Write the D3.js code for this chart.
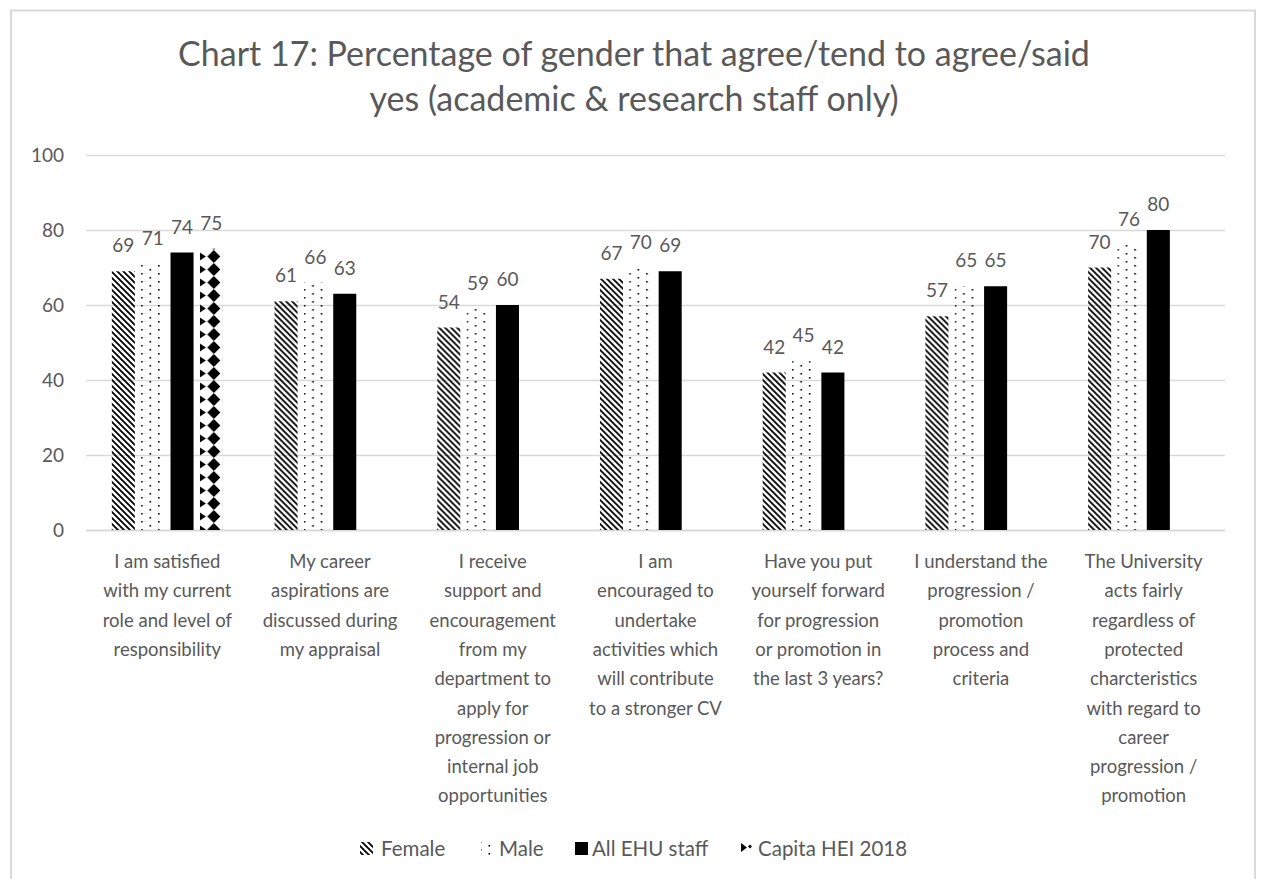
<!DOCTYPE html>
<html>
<head>
<meta charset="utf-8">
<script src="https://cdn.jsdelivr.net/npm/d3@7"></script>
<style>
  html, body { margin: 0; padding: 0; background: #fff; }
  svg { display: block; }
  text { font-family: Lato, "Open Sans", sans-serif; fill: #595959; }
</style>
</head>
<body>
<svg id="chart" width="1262" height="879"></svg>
<script>
// Survey questions (wrapped as shown under the axis)
const categories = [
  ["I am satisfied", "with my current", "role and level of", "responsibility"],
  ["My career", "aspirations are", "discussed during", "my appraisal"],
  ["I receive", "support and", "encouragement", "from my", "department to", "apply for", "progression or", "internal job", "opportunities"],
  ["I am", "encouraged to", "undertake", "activities which", "will contribute", "to a stronger CV"],
  ["Have you put", "yourself forward", "for progression", "or promotion in", "the last 3 years?"],
  ["I understand the", "progression /", "promotion", "process and", "criteria"],
  ["The University", "acts fairly", "regardless of", "protected", "charcteristics", "with regard to", "career", "progression /", "promotion"]
];
const seriesNames = ["Female", "Male", "All EHU staff", "Capita HEI 2018"];
const femaleValues = [69, 61, 54, 67, 42, 57, 70];
const maleValues   = [71, 66, 59, 70, 45, 65, 76];
const allStaffValues = [74, 63, 60, 69, 42, 65, 80];
const capitaValues = [75, null, null, null, null, null, null];
const yTicks = [0, 20, 40, 60, 80, 100];
const titleLines = ["Chart 17: Percentage of gender that agree/tend to agree/said", "yes (academic & research staff only)"];

const seriesValues = [femaleValues, maleValues, allStaffValues, capitaValues];

const svg = d3.select("#chart");

// outer frame
svg.append("rect").attr("x", 11).attr("y", 10.5).attr("width", 1244).attr("height", 880)
  .attr("fill", "#fff").attr("stroke", "#d9d9d9").attr("stroke-width", 2);

// fill patterns
const defs = svg.append("defs");
const pFemale = defs.append("pattern").attr("id", "pat-female")
  .attr("patternUnits", "userSpaceOnUse").attr("width", 6).attr("height", 6);
pFemale.append("path").attr("d", "M-1,-1 L7,7 M-1,5 L1,7 M5,-1 L7,1")
  .attr("stroke", "#000").attr("stroke-width", 1.8);

const pMale = defs.append("pattern").attr("id", "pat-male")
  .attr("patternUnits", "userSpaceOnUse").attr("width", 17).attr("height", 8);
pMale.append("rect").attr("x", 4).attr("y", 1).attr("width", 1.6).attr("height", 1.6).attr("fill", "#000");
pMale.append("rect").attr("x", 12.5).attr("y", 5).attr("width", 1.6).attr("height", 1.6).attr("fill", "#000");

const margin = { left: 86, right: 1225, top: 155, bottom: 530 };
const x = d3.scaleBand().domain(d3.range(categories.length)).range([margin.left, margin.right]);
const xs = d3.scaleBand().domain(d3.range(seriesNames.length)).range([0, x.bandwidth()])
  .paddingInner(0.215).paddingOuter(0.88);
const y = d3.scaleLinear().domain([0, 100]).range([margin.bottom, margin.top]);

// arrow + diamond tile, aligned to the bar's own left edge (group-local coordinates)
const pCap = defs.append("pattern").attr("id", "pat-capita")
  .attr("patternUnits", "userSpaceOnUse").attr("x", xs(3)).attr("y", 3)
  .attr("width", xs.bandwidth()).attr("height", 13);
pCap.append("path").attr("d", "M0,2.5 L6,6.5 L0,10.5 Z").attr("fill", "#000");
pCap.append("path").attr("d", "M14,0 L20.5,6.5 L14,13 L7.5,6.5 Z").attr("fill", "#000");

const fills = ["url(#pat-female)", "url(#pat-male)", "#000", "url(#pat-capita)"];

// gridlines
svg.append("g").selectAll("line").data(yTicks).join("line")
  .attr("x1", margin.left).attr("x2", margin.right)
  .attr("y1", d => y(d) + 0.5).attr("y2", d => y(d) + 0.5)
  .attr("stroke", "#d9d9d9").attr("stroke-width", d => d === 0 ? 2 : 1.5);

// y axis labels
const yAxis = d3.axisLeft(y).tickValues(yTicks).tickSize(0).tickPadding(0);
const yg = svg.append("g").attr("transform", `translate(64,0)`).call(yAxis);
yg.select(".domain").remove();
yg.selectAll("text").attr("font-size", 19).style("font-family", "Lato, sans-serif").attr("fill", "#595959");

// bars
const groups = svg.append("g").selectAll("g").data(categories).join("g")
  .attr("transform", (d, i) => `translate(${x(i)},0)`);

seriesValues.forEach((vals, s) => {
  groups.each(function (d, i) {
    const v = vals[i];
    if (v == null) return;
    const g = d3.select(this);
    g.append("rect")
      .attr("x", xs(s)).attr("width", xs.bandwidth())
      .attr("y", y(v)).attr("height", y(0) - y(v))
      .attr("fill", fills[s]);
    g.append("text")
      .attr("x", xs(s) + xs.bandwidth() / 2).attr("y", y(v) - 19)
      .attr("text-anchor", "middle").attr("font-size", 19)
      .text(v);
  });
});

// category labels
groups.append("text")
  .attr("x", x.bandwidth() / 2).attr("y", 568)
  .attr("text-anchor", "middle").attr("font-size", 18.5)
  .selectAll("tspan").data(d => d).join("tspan")
  .attr("x", x.bandwidth() / 2).attr("dy", (d, i) => i === 0 ? 0 : 29.3)
  .text(d => d);

// title
svg.append("text").attr("x", 634).attr("y", 66).attr("text-anchor", "middle").attr("font-size", 34)
  .selectAll("tspan").data(titleLines).join("tspan")
  .attr("x", 634).attr("dy", (d, i) => i === 0 ? 0 : 45).text(d => d);

// legend
const legendItems = [
  { name: seriesNames[0], sx: 360, tx: 381, fill: fills[0] },
  { name: seriesNames[1], sx: 481, tx: 499, fill: fills[1] },
  { name: seriesNames[2], sx: 575, tx: 592, fill: fills[2] },
  { name: seriesNames[3], sx: 741, tx: 758, fill: "url(#pat-capita-legend)" }
];
const ly = 849;
const lp = defs.append("pattern").attr("id", "pat-capita-legend")
  .attr("patternUnits", "userSpaceOnUse").attr("x", 741).attr("y", ly - 7)
  .attr("width", 14).attr("height", 14);
lp.append("path").attr("d", "M0,1 L6,5.5 L0,10 Z").attr("fill", "#000");
lp.append("path").attr("d", "M9,2.5 L11,4.5 L9,6.5 L7,4.5 Z").attr("fill", "#000");

const leg = svg.append("g");
legendItems.forEach(it => {
  leg.append("rect").attr("x", it.sx).attr("y", ly - 7).attr("width", it.name === "Male" ? 12 : 13).attr("height", 13)
    .attr("fill", it.fill);
  leg.append("text").attr("x", it.tx).attr("y", ly + 7).attr("font-size", 20.5).text(it.name);
});
</script>
</body>
</html>
